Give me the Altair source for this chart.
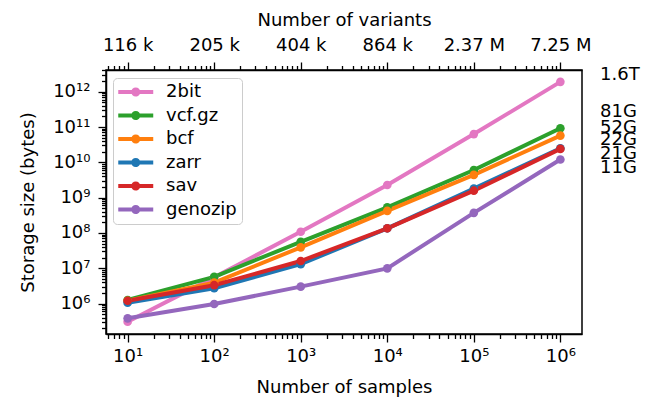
import altair as alt
import pandas as pd

# ---------------- data ----------------
samples = [10, 100, 1000, 10000, 100000, 1000000]
variant_labels = ["116 k", "205 k", "404 k", "864 k", "2.37 M", "7.25 M"]
formats = ["2bit", "vcf.gz", "bcf", "zarr", "sav", "genozip"]
colors = ["#e377c2", "#2ca02c", "#ff7f0e", "#1f77b4", "#d62728", "#9467bd"]

size_2bit = [3.05e5, 5.5e6, 1.08e8, 2.28e9, 6.3e10, 1.9e12]
size_vcfgz = [1.26e6, 5.7e6, 5.6e7, 5.3e8, 6.05e9, 9.2e10]
size_bcf = [1.2e6, 3.9e6, 3.9e7, 4.2e8, 4.4e9, 5.7e10]
size_zarr = [1.05e6, 2.7e6, 1.3e7, 1.35e8, 1.8e9, 2.5e10]
size_sav = [1.2e6, 3.3e6, 1.6e7, 1.35e8, 1.57e9, 2.4e10]
size_genozip = [3.8e5, 9.7e5, 3.0e6, 9.9e6, 3.7e8, 1.2e10]

right_labels = ["1.6T", "81G", "52G", "22G", "21G", "11G"]
right_label_pos = [2.95e12, 2.7e11, 9.1e10, 4.3e10, 1.74e10, 6.8e9]

series = [size_2bit, size_vcfgz, size_bcf, size_zarr, size_sav, size_genozip]
rows = []
for fmt, vals in zip(formats, series):
    for s, v in zip(samples, vals):
        rows.append({"format": fmt, "samples": s, "bytes": v})
df = pd.DataFrame(rows)
df_lab = pd.DataFrame({"label": right_labels, "pos": right_label_pos})

X_DOMAIN = [10 ** 0.75, 10 ** 6.25]
Y_DOMAIN = [10 ** 5.136, 10 ** 12.615]


def log_ticks(lo_exp, hi_exp, lo, hi):
    out = []
    for e in range(lo_exp, hi_exp + 1):
        for m in range(1, 10):
            v = m * 10 ** e
            if lo <= v <= hi:
                out.append(v)
    return out


x_ticks = log_ticks(0, 6, *X_DOMAIN)
y_ticks = log_ticks(5, 12, *Y_DOMAIN)

FONT = "DejaVu Sans"
FS = 18
IS_MAJOR = "abs(log(datum.value)/LN10 - round(log(datum.value)/LN10)) < 0.001"
EXP = "round(log(datum.value)/LN10)"
sup = ["⁰", "¹", "²", "³", "⁴", "⁵", "⁶", "⁷", "⁸", "⁹", "¹⁰", "¹¹", "¹²"]
sup_arr = "[" + ",".join("'" + s + "'" for s in sup) + "]"
pow_label = IS_MAJOR + " ? '10' + " + sup_arr + "[" + EXP + "] : ''"
var_arr = "[" + ",".join("'" + s + "'" for s in variant_labels) + "]"
top_label = IS_MAJOR + " ? " + var_arr + "[" + EXP + " - 1] : ''"

tick_size = {"condition": {"test": IS_MAJOR, "value": 8}, "value": 4.5}

xscale = alt.Scale(type="log", domain=X_DOMAIN, nice=False)
yscale = alt.Scale(type="log", domain=Y_DOMAIN, nice=False)

bottom_axis = alt.Axis(orient="bottom", values=x_ticks, labelExpr=pow_label,
                       tickSize=tick_size, title="Number of samples",
                       labelPadding=5, titlePadding=13)
top_axis = alt.Axis(orient="top", values=x_ticks, labelExpr=top_label,
                    tickSize=tick_size, title="Number of variants",
                    labelPadding=8, titlePadding=7)
left_axis = alt.Axis(orient="left", values=y_ticks, labelExpr=pow_label,
                     tickSize=tick_size, title="Storage size (bytes)",
                     labelPadding=8, titlePadding=15)

# line (x from -1 to 3) with a dot at its middle; unit = sqrt(size)/2 px
LEGEND_PATH = ("M-1,-0.23L3,-0.23L3,0.23L-1,0.23Z"
               "M0.48,0A0.52,0.52,0,1,1,1.52,0A0.52,0.52,0,1,1,0.48,0Z")
legend = alt.Legend(
    title=None, orient="none", legendX=7, legendY=8,
    symbolType=LEGEND_PATH, symbolSize=306, symbolStrokeWidth=0,
    symbolOpacity=1,
    labelFont=FONT, labelFontSize=FS, labelColor="black",
    labelOffset=30, rowPadding=5.5, padding=5,
    fillColor="white", strokeColor="#cccccc", cornerRadius=4,
)

X = alt.X("samples:Q", scale=xscale, axis=bottom_axis)
Y = alt.Y("bytes:Q", scale=yscale, axis=left_axis)
COLOR = alt.Color("format:N", scale=alt.Scale(domain=formats, range=colors), legend=legend)

line = alt.Chart(df).mark_line(strokeWidth=4).encode(x=X, y=Y, color=COLOR)

points = alt.Chart(df).mark_point(filled=True, size=75, opacity=1).encode(
    x=X, y=Y, color=COLOR
)

labels = alt.Chart(df_lab).mark_text(
    align="left", baseline="middle", font=FONT, fontSize=FS, color="black"
).encode(
    x=alt.value(494),
    y=alt.Y("pos:Q", scale=yscale, axis=left_axis),
    text="label:N",
)

inner = alt.layer(line, points, labels)

top = alt.Chart(df).mark_point(opacity=0).encode(
    x=alt.X("samples:Q", scale=xscale, axis=top_axis),
)

chart = alt.layer(inner, top).resolve_scale(x="independent").properties(
    width=476, height=264,
    autosize=alt.AutoSizeParams(type="none"),
    padding={"left": 98, "top": 62, "right": 60, "bottom": 72},
    background="white",
).configure_view(
    stroke="black", strokeWidth=1.5
).configure_axis(
    grid=False,
    domainColor="black", domainWidth=1.5,
    tickColor="black", tickWidth=1.3,
    labelFont=FONT, labelFontSize=FS, labelColor="black",
    titleFont=FONT, titleFontSize=FS, titleColor="black", titleFontWeight="normal",
    labelOverlap=False, labelFlush=False, labelBound=False,
)

chart.save("out.html", embed_options={"renderer": "svg", "actions": False})
